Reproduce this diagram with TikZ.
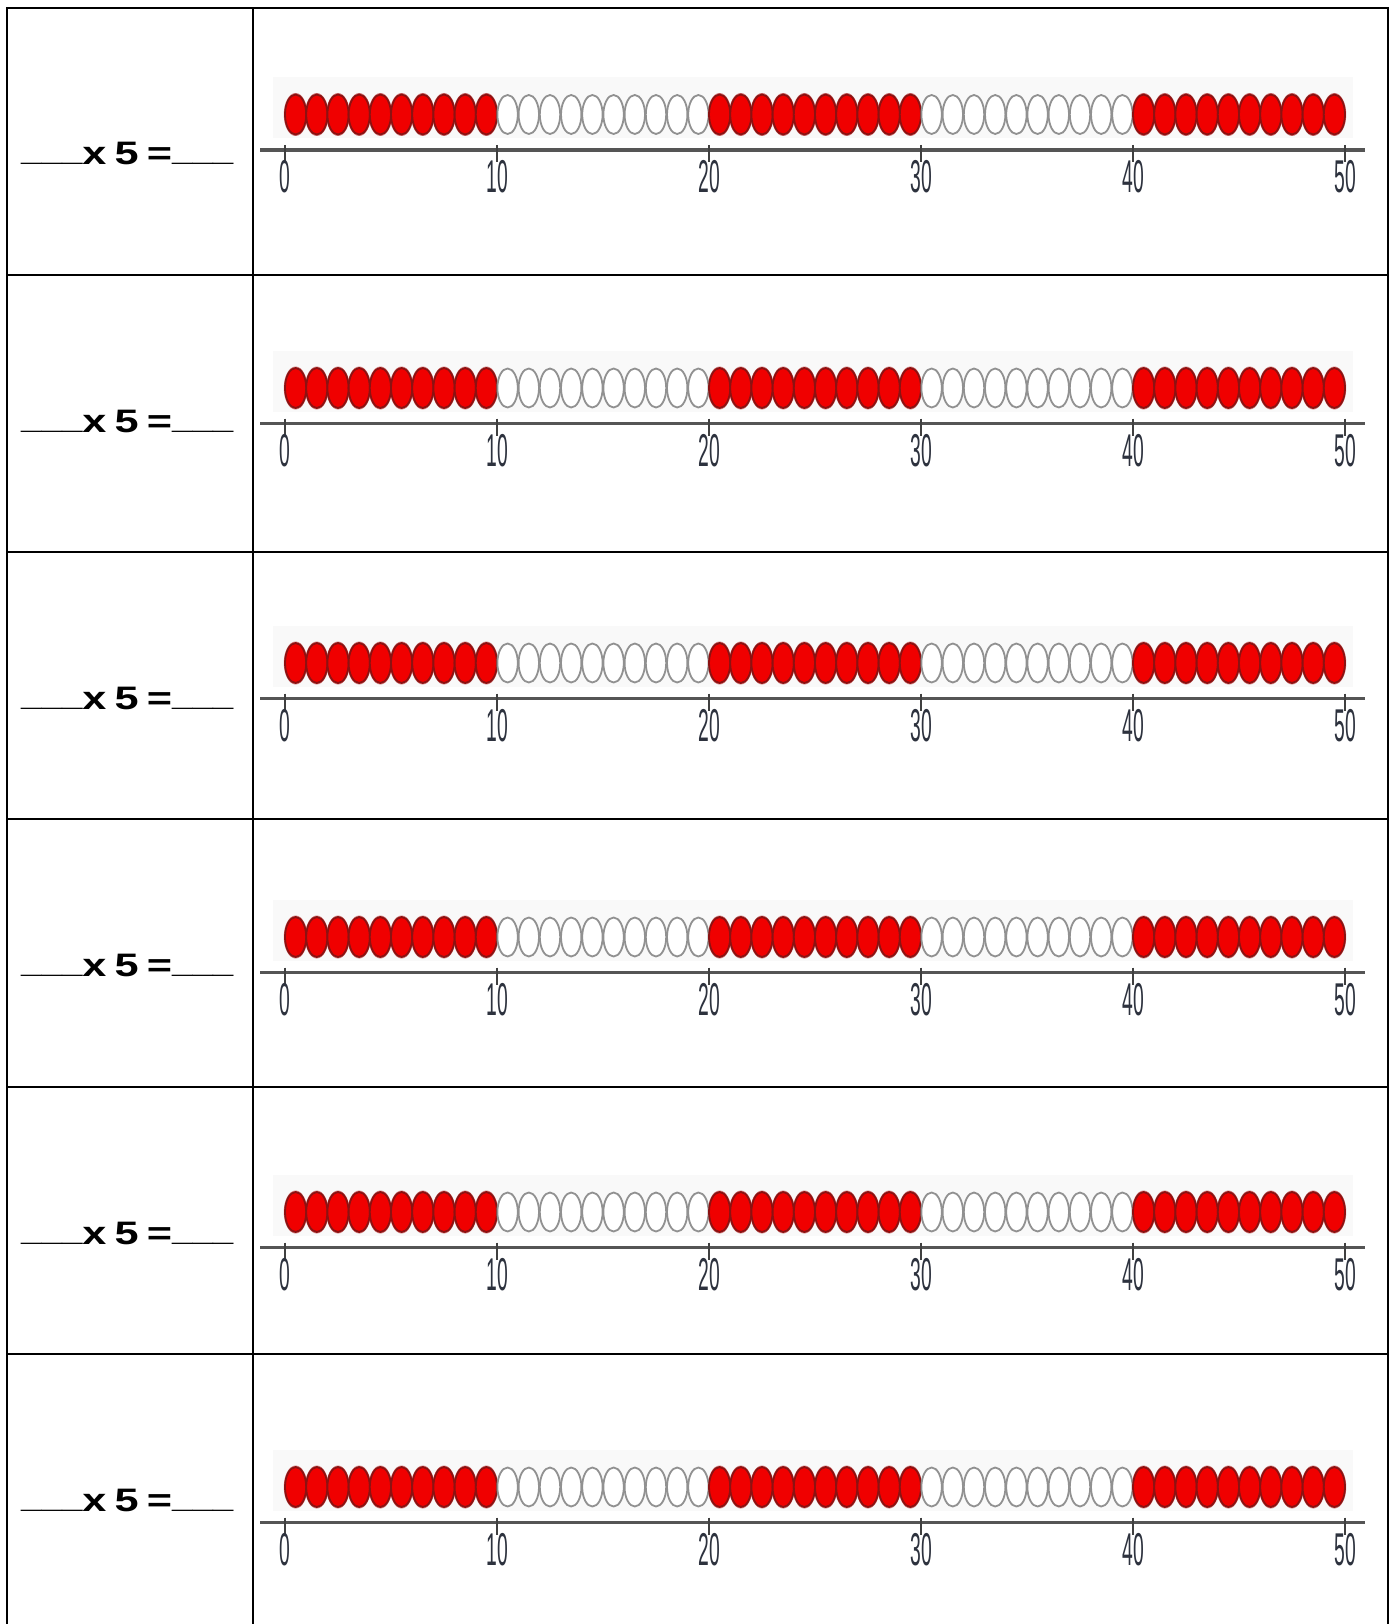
\documentclass[tikz,border=0pt]{standalone}
\usepackage{fontspec}
\newfontfamily\eqfont{Liberation Sans}[FakeStretch=1.33,WordSpace=0.68]
\newfontfamily\ulfont{Liberation Sans}[FakeStretch=1.13]
\newfontfamily\numfont{Liberation Sans}[FakeStretch=0.42]
\definecolor{beadred}{RGB}{240,0,0}
\definecolor{beadedge}{RGB}{140,18,18}
\definecolor{beadhalo}{RGB}{205,120,120}
\definecolor{ringgray}{RGB}{145,145,145}
\definecolor{axisgray}{RGB}{85,85,85}
\definecolor{numcol}{RGB}{45,50,62}
\definecolor{bandgray}{RGB}{249,249,249}
\begin{document}
\begin{tikzpicture}[x=1pt,y=-1pt,
  rule/.style={line width=2pt, black},
  eqlabel/.style={inner sep=0pt, anchor=base west, font=\eqfont\bfseries\fontsize{32.5}{38}\selectfont},
  numlabel/.style={inner sep=0pt, anchor=base, text=numcol, font=\numfont\fontsize{46}{50}\selectfont},
  axisline/.style={line width=3.5pt, axisgray},
  tickline/.style={line width=1.5pt, black!75},
  redhalo/.style={fill=beadhalo, draw=none},
  redbead/.style={fill=beadred, draw=beadedge, line width=1.8pt},
  whitebead/.style={fill=white, draw=ringgray, line width=1.8pt},
  band/.style={fill=bandgray, draw=none}
]
\useasboundingbox (0,0) rectangle (1395,1624);
\fill[white] (0,0) rectangle (1395,1624);
% table rules
\draw[rule] (7,1624) -- (7,8) -- (1388,8) -- (1388,1624);
\draw[rule] (253,8) -- (253,1624);
\foreach \ry in {275,552,819,1087,1354} {
  \draw[rule] (7,\ry) -- (1388,\ry);
}
\foreach \rt/\ax [count=\r] in {8/150,275/423.5,552/698.5,819/972.5,1087/1247.5,1354/1522.5} {
  \node[eqlabel] (eq\r) at (21,\rt+157) {\raisebox{4pt}{\ulfont\bfseries\_\_\_}x 5 =\raisebox{4pt}{\ulfont\bfseries\_\_\_}};
  \fill[band] (273,\ax-73) rectangle (1353,\ax-12);
  \foreach \i in {1,...,50} {
    \pgfmathsetmacro\bx{285+21.2*(\i-0.5)}
    \pgfmathtruncatemacro\g{mod(floor((\i-1)/10),2)}
    \ifnum\g=0
      \fill[redhalo] (\bx,\ax-35.5) ellipse [x radius=11.8, y radius=21.5];
    \fi
  }
  \foreach \i in {1,...,50} {
    \pgfmathsetmacro\bx{285+21.2*(\i-0.5)}
    \pgfmathtruncatemacro\g{mod(floor((\i-1)/10),2)}
    \ifnum\g=0
      \draw[redbead] (\bx,\ax-35.5) ellipse [x radius=10.6, y radius=20];
    \else
      \draw[whitebead] (\bx,\ax-35.5) ellipse [x radius=10.2, y radius=19.5];
    \fi
  }
  \coordinate (axl\r) at (260,\ax);
  \coordinate (axr\r) at (1365,\ax);
  \draw[axisline] (axl\r) -- (axr\r);
  \foreach \k in {0,...,5} {
    \pgfmathsetmacro\tx{285+212*\k}
    \draw[tickline] (\tx,\ax-5) -- (\tx,\ax+12);
    \pgfmathtruncatemacro\lab{10*\k}
    \node[numlabel] (lab\r-\k) at (\tx,\ax+43) {\lab};
  }
}
\end{tikzpicture}
\end{document}
